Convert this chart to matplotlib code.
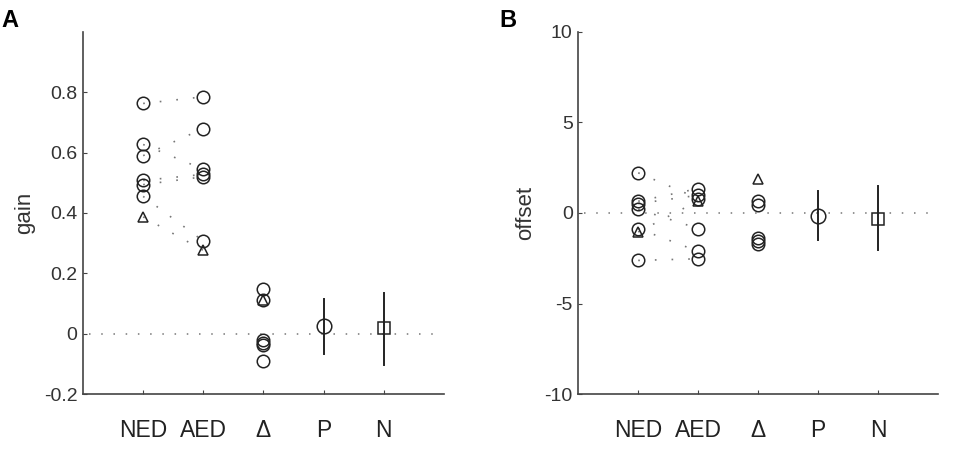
import matplotlib
matplotlib.use('Agg')
import matplotlib.pyplot as plt
import numpy as np

plt.rcParams['font.family'] = ['Liberation Sans', 'DejaVu Sans']

cats = ['NED', 'AED', '\u0394', 'P', 'N']

# panel A: gain
gain_ned = [0.763, 0.627, 0.590, 0.508, 0.494, 0.455]
gain_aed = [0.785, 0.545, 0.680, 0.528, 0.520, 0.307]
gain_ned_tri = 0.387
gain_aed_tri = 0.276
gain_delta = [0.149, 0.113, -0.020, -0.031, -0.039, -0.089]
gain_delta_tri = 0.110
gain_p, gain_p_lo, gain_p_hi = 0.025, -0.069, 0.116
gain_n, gain_n_lo, gain_n_hi = 0.018, -0.103, 0.135

# panel B: offset
off_ned = [2.22, 0.65, 0.52, 0.21, -0.86, -2.62]
off_aed = [0.80, 1.35, 0.98, -0.86, -2.12, -2.53]
off_ned_tri = -1.05
off_aed_tri = 0.67
off_delta = [0.65, 0.43, -1.38, -1.55, -1.69]
off_delta_tri = 1.86
off_p, off_p_lo, off_p_hi = -0.17, -1.51, 1.22
off_n, off_n_lo, off_n_hi = -0.31, -2.07, 1.51

ink = '#222222'
axc = '#444444'


def draw_panel(ax, ned, aed, ned_tri, aed_tri, delta, delta_tri,
               p, p_lo, p_hi, n, n_lo, n_hi, ylim, yticks, yticklabels, ylabel):
    mk = dict(mfc='none', mec=ink, mew=1.1, ls='none')
    # dotted connecting lines
    for a, b in zip(ned, aed):
        ax.plot([1, 2], [a, b], color='#777777', lw=1.2, ls=(0, (1, 9)))
    ax.plot([1, 2], [ned_tri, aed_tri], color='#777777', lw=1.2, ls=(0, (1, 9)))
    # zero line
    ax.plot([0.1, 5.9], [0, 0], color='#777777', lw=1.1, ls=(0, (1, 7)))

    ax.plot([1] * len(ned), ned, marker='o', ms=9, **mk)
    ax.plot([2] * len(aed), aed, marker='o', ms=9, **mk)
    ax.plot([1], [ned_tri], marker='^', ms=7.5, **mk)
    ax.plot([2], [aed_tri], marker='^', ms=7.5, **mk)
    ax.plot([3] * len(delta), delta, marker='o', ms=9, **mk)
    ax.plot([3], [delta_tri], marker='^', ms=7.5, **mk)

    ax.plot([4, 4], [p_lo, p_hi], color=ink, lw=1.4)
    ax.plot([4], [p], marker='o', ms=10.5, **mk)
    ax.plot([5, 5], [n_lo, n_hi], color=ink, lw=1.4)
    ax.plot([5], [n], marker='s', ms=8.5, **mk)

    ax.set_xlim(0, 6)
    ax.set_ylim(*ylim)
    ax.set_xticks([1, 2, 3, 4, 5])
    ax.set_xticklabels(cats, fontsize=16.5, color=ink)
    ax.set_yticks(yticks)
    ax.set_yticklabels(yticklabels, fontsize=14, color='#333333')
    ax.tick_params(axis='x', direction='in', length=3, pad=18, color=axc)
    ax.tick_params(axis='y', direction='in', length=3, pad=4, color=axc)
    for s in ['top', 'right']:
        ax.spines[s].set_visible(False)
    for s in ['left', 'bottom']:
        ax.spines[s].set_color(axc)
        ax.spines[s].set_linewidth(1.2)
    ax.set_ylabel(ylabel, fontsize=16, color='#333333', labelpad=6)


fig = plt.figure(figsize=(9.55, 4.5), dpi=100)
axA = fig.add_axes([0.0869, 0.1244, 0.378, 0.8046])
axB = fig.add_axes([0.6055, 0.1244, 0.3767, 0.8046])

draw_panel(axA, gain_ned, gain_aed, gain_ned_tri, gain_aed_tri, gain_delta,
           gain_delta_tri, gain_p, gain_p_lo, gain_p_hi, gain_n, gain_n_lo,
           gain_n_hi, (-0.2, 1.0), [-0.2, 0, 0.2, 0.4, 0.6, 0.8],
           ['-0.2', '0', '0.2', '0.4', '0.6', '0.8'], 'gain')
draw_panel(axB, off_ned, off_aed, off_ned_tri, off_aed_tri, off_delta,
           off_delta_tri, off_p, off_p_lo, off_p_hi, off_n, off_n_lo,
           off_n_hi, (-10, 10), [-10, -5, 0, 5, 10],
           ['-10', '-5', '0', '5', '10'], 'offset')

fig.text(0.001, 0.955, 'A', fontsize=17, fontweight='bold', ha='left', va='center')
fig.text(0.532, 0.955, 'B', fontsize=17, fontweight='bold', ha='center', va='center')

fig.savefig('out.png', dpi=100)
